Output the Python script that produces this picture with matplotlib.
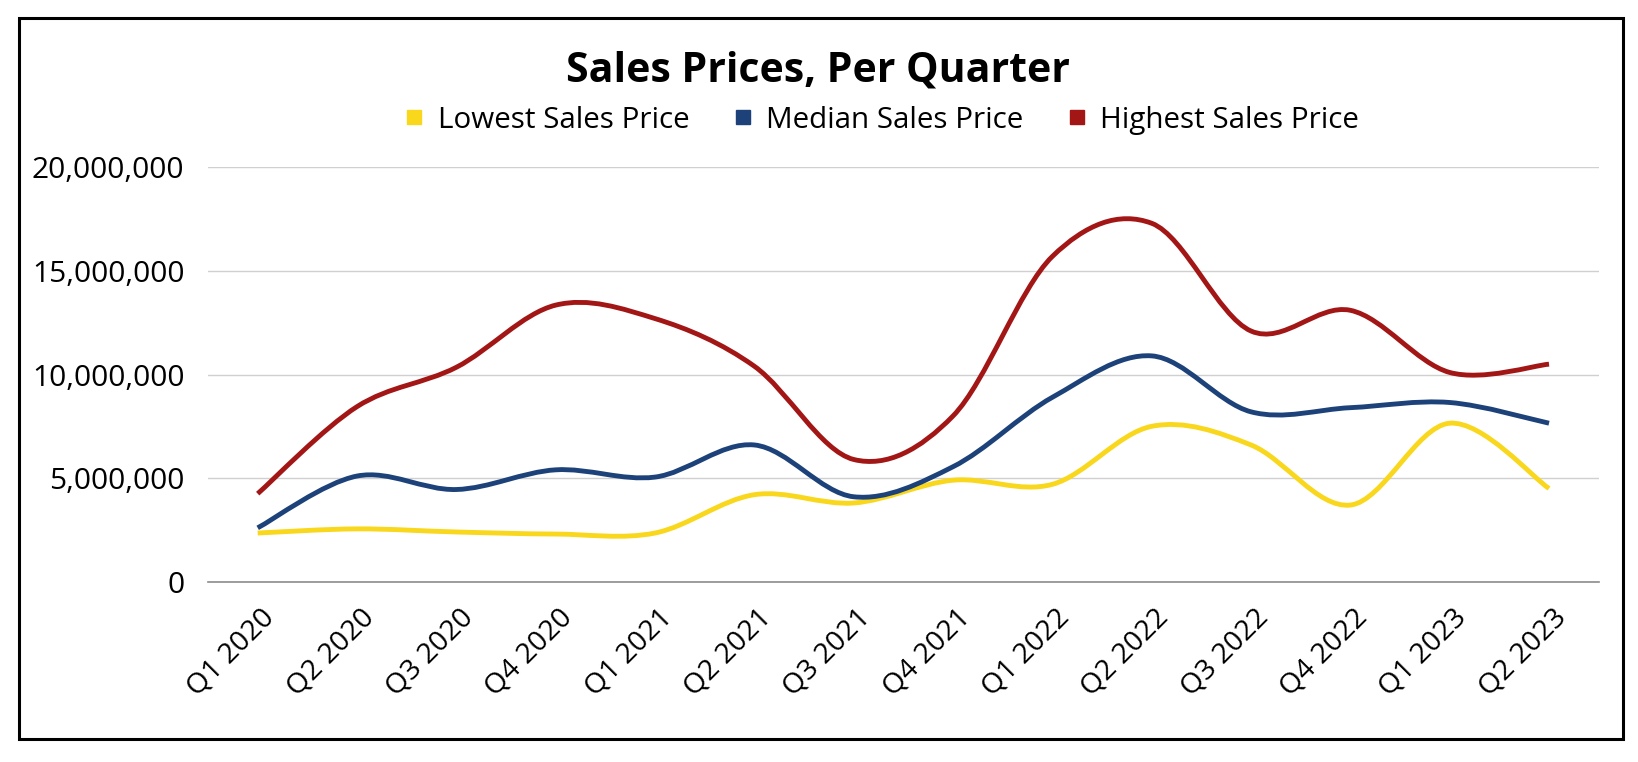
import matplotlib
matplotlib.use("Agg")
import matplotlib.pyplot as plt
from matplotlib.path import Path
from matplotlib.patches import PathPatch, Rectangle
from matplotlib.lines import Line2D
from matplotlib.ticker import FuncFormatter, MultipleLocator
import matplotlib.transforms as mtransforms

plt.rcParams['font.family'] = ['Open Sans', 'DejaVu Sans']

quarters = ['Q1 2020', 'Q2 2020', 'Q3 2020', 'Q4 2020', 'Q1 2021', 'Q2 2021', 'Q3 2021',
            'Q4 2021', 'Q1 2022', 'Q2 2022', 'Q3 2022', 'Q4 2022', 'Q1 2023', 'Q2 2023']

lowest = [2350000, 2550000, 2400000, 2300000, 2350000, 4200000, 3800000,
          4900000, 4700000, 7500000, 6600000, 3700000, 7650000, 4500000]
median = [2600000, 5100000, 4450000, 5400000, 5050000, 6600000, 4100000,
          5550000, 8900000, 10900000, 8200000, 8400000, 8650000, 7650000]
highest = [4250000, 8450000, 10350000, 13350000, 12700000, 10400000, 5900000,
           8000000, 15700000, 17300000, 12100000, 13100000, 10100000, 10500000]

series = [('Lowest Sales Price', lowest, '#F9D71C'),
          ('Median Sales Price', median, '#1C4279'),
          ('Highest Sales Price', highest, '#A31616')]


def smooth_path(xs, ys):
    # Excel-like smoothed line: cubic Bezier with Catmull-Rom style control points
    pts = list(zip(xs, ys))
    n = len(pts)
    verts = [pts[0]]
    codes = [Path.MOVETO]
    for i in range(n - 1):
        p0 = pts[i - 1] if i > 0 else pts[i]
        p1 = pts[i]
        p2 = pts[i + 1]
        p3 = pts[i + 2] if i + 2 < n else pts[i + 1]
        c1 = (p1[0] + (p2[0] - p0[0]) / 6, p1[1] + (p2[1] - p0[1]) / 6)
        c2 = (p2[0] - (p3[0] - p1[0]) / 6, p2[1] - (p3[1] - p1[1]) / 6)
        verts += [c1, c2, p2]
        codes += [Path.CURVE4] * 3
    return Path(verts, codes)


fig = plt.figure(figsize=(16.38, 7.62), dpi=100)
ax = fig.add_axes([0.127, 0.2366, 0.849, 0.5438])

x = list(range(len(quarters)))
for name, vals, color in series:
    patch = PathPatch(smooth_path(x, vals), facecolor='none', edgecolor=color,
                      lw=3.5, capstyle='butt', joinstyle='round', zorder=3)
    ax.add_patch(patch)

ax.set_xlim(-0.5, len(quarters) - 0.5)
ax.set_ylim(0, 20000000)
ax.yaxis.set_major_locator(MultipleLocator(5000000))
ax.yaxis.set_major_formatter(FuncFormatter(lambda v, p: f'{int(v):,}'))
ax.grid(axis='y', color='#d0d0d0', lw=1.0, zorder=0)
ax.set_axisbelow(True)
for s in ['top', 'right', 'left']:
    ax.spines[s].set_visible(False)
ax.spines['bottom'].set_color('#8c8c8c')
ax.spines['bottom'].set_linewidth(1.2)

ax.set_xticks(x)
ax.set_xticklabels(quarters, rotation=45, ha='right', va='center', rotation_mode='anchor')
ax.tick_params(axis='x', length=0, pad=23, labelsize=20.5)
ax.tick_params(axis='y', length=0, pad=17, labelsize=21.5)
offset = mtransforms.ScaledTranslation(13 / 100, 0, fig.dpi_scale_trans)
for lab in ax.get_xticklabels():
    lab.set_transform(lab.get_transform() + offset)

fig.text(0.4995, 0.907, 'Sales Prices, Per Quarter', ha='center', va='center',
         fontsize=29.5, fontweight='bold')

handles = [Line2D([], [], marker='s', ls='none', color=c, markersize=10.5)
           for _, _, c in series]
fig.legend(handles, [n for n, _, _ in series], loc='center', ncol=3,
           bbox_to_anchor=(0.5368, 0.8425), frameon=False, fontsize=21.3,
           handletextpad=0.3, columnspacing=1.3, handlelength=1.0)

# outer black frame
fig.patches.append(Rectangle((19 / 1638, 1 - 739 / 762), (1623 - 19) / 1638, (739 - 18) / 762,
                             transform=fig.transFigure, fill=False, edgecolor='black', lw=2.2))

fig.savefig('out.png', dpi=100, facecolor='white')
